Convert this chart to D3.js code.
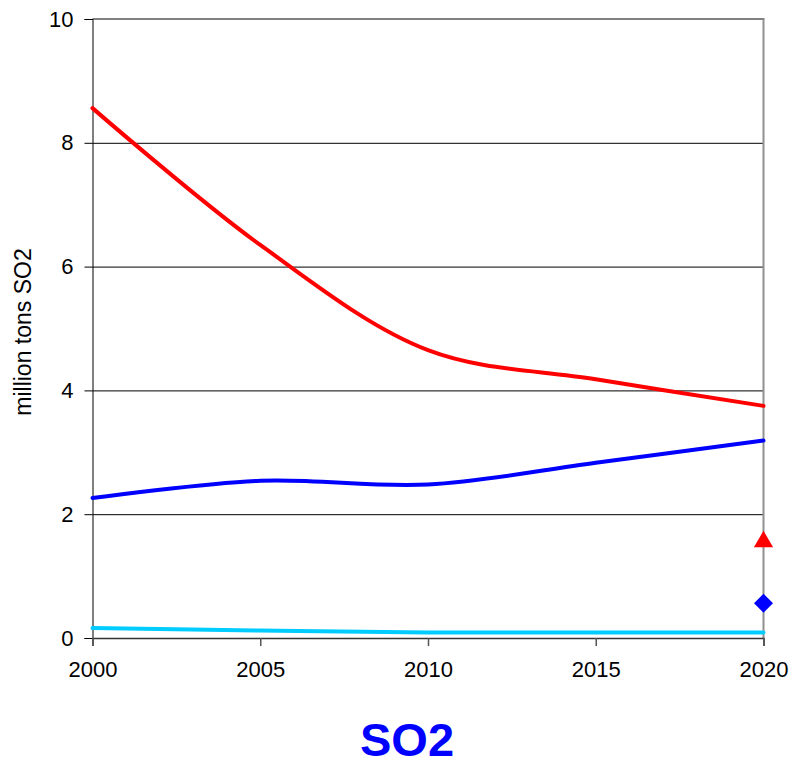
<!DOCTYPE html>
<html>
<head>
<meta charset="utf-8">
<script src="https://cdn.jsdelivr.net/npm/d3@7"></script>
<style>
  body { margin: 0; background: #fff; }
  text { font-family: "Liberation Sans", Arial, sans-serif; }
</style>
</head>
<body>
<script>
// the data
var years = [2000, 2005, 2010, 2015, 2020];
var redSeries = [8.56, 6.35, 4.65, 4.18, 3.75];
var blueSeries = [2.26, 2.54, 2.48, 2.83, 3.19];
var cyanSeries = [0.16, 0.12, 0.09, 0.09, 0.09];
var redMarker = {year: 2020, value: 1.6};
var blueMarker = {year: 2020, value: 0.56};
var yTicks = [0, 2, 4, 6, 8, 10];
var xTicks = [2000, 2005, 2010, 2015, 2020];

// sizes (plot area edges)
var width = 794;
var height = 763;
var plotLeft = 92.5, plotTop = 19, plotRight = 763.5, plotBottom = 638;

var svg = d3.select("body")
            .append("svg")
            .attr("width", width)
            .attr("height", height);

var xScale = d3.scaleLinear()
               .domain([2000, 2020])
               .range([plotLeft, plotRight]);

var yScale = d3.scaleLinear()
               .domain([0, 10])
               .range([plotBottom, plotTop]);

// horizontal gridlines
svg.append("g")
   .selectAll("line")
   .data(yTicks.filter(function(d) { return d > 0 && d < 10; }))
   .enter()
   .append("line")
   .attr("x1", plotLeft)
   .attr("x2", plotRight)
   .attr("y1", function(d) { return yScale(d) + 0.5; })
   .attr("y2", function(d) { return yScale(d) + 0.5; })
   .attr("stroke", "#000")
   .attr("stroke-width", 1);

// top and right border of the plot area
svg.append("line")
   .attr("x1", plotLeft).attr("x2", plotRight + 1)
   .attr("y1", yScale(10)).attr("y2", yScale(10))
   .attr("stroke", "#808080").attr("stroke-width", 2);
svg.append("line")
   .attr("x1", plotRight).attr("x2", plotRight)
   .attr("y1", yScale(10)).attr("y2", plotBottom)
   .attr("stroke", "#909090").attr("stroke-width", 2);

// y axis
var yAxis = d3.axisLeft(yScale)
              .tickValues(yTicks)
              .tickSize(8)
              .tickPadding(11)
              .tickFormat(d3.format("d"));

svg.append("g")
   .attr("transform", "translate(" + plotLeft + ",0)")
   .call(yAxis)
   .call(function(g) {
     g.select(".domain").attr("stroke", "#000");
     g.selectAll(".tick line").attr("stroke", "#000");
     g.selectAll(".tick text").style("font-size", "22px").attr("fill", "#000");
   });

// x axis
var xAxis = d3.axisBottom(xScale)
              .tickValues(xTicks)
              .tickSize(8)
              .tickPadding(15)
              .tickFormat(d3.format("d"));

svg.append("g")
   .attr("transform", "translate(0," + plotBottom + ")")
   .call(xAxis)
   .call(function(g) {
     g.select(".domain").attr("stroke", "#333").attr("stroke-width", 1.5);
     g.selectAll(".tick line").attr("stroke", "#555").attr("stroke-width", 1.5);
     g.selectAll(".tick text").style("font-size", "22px").attr("fill", "#000");
   });

// lines
var line = d3.line()
             .x(function(d, i) { return xScale(years[i]); })
             .y(function(d) { return yScale(d); })
             .curve(d3.curveCatmullRom);

var series = [
  {values: redSeries, color: "#ff0000"},
  {values: blueSeries, color: "#0000ff"},
  {values: cyanSeries, color: "#00ccff"}
];

svg.selectAll("path.series")
   .data(series)
   .enter()
   .append("path")
   .attr("class", "series")
   .attr("d", function(d) { return line(d.values); })
   .attr("fill", "none")
   .attr("stroke", function(d) { return d.color; })
   .attr("stroke-width", 4)
   .attr("stroke-linecap", "round");

// markers at 2020
svg.append("path")
   .attr("d", d3.symbol().type(d3.symbolTriangle).size(160)())
   .attr("transform", "translate(" + xScale(redMarker.year) + "," + (yScale(redMarker.value) + 2.8) + ")")
   .attr("fill", "#ff0000");

svg.append("path")
   .attr("d", d3.symbol().type(d3.symbolSquare).size(180)())
   .attr("transform", "translate(" + xScale(blueMarker.year) + "," + yScale(blueMarker.value) + ") rotate(45)")
   .attr("fill", "#0000ff");

// y axis title
svg.append("text")
   .attr("transform", "translate(31,332) rotate(-90)")
   .attr("text-anchor", "middle")
   .style("font-size", "23px")
   .attr("fill", "#000")
   .text("million tons SO2");

// chart title
svg.append("text")
   .attr("x", 407)
   .attr("y", 756)
   .attr("text-anchor", "middle")
   .style("font-size", "47px")
   .style("font-weight", "bold")
   .attr("fill", "#0000ff")
   .text("SO2");
</script>
</body>
</html>
